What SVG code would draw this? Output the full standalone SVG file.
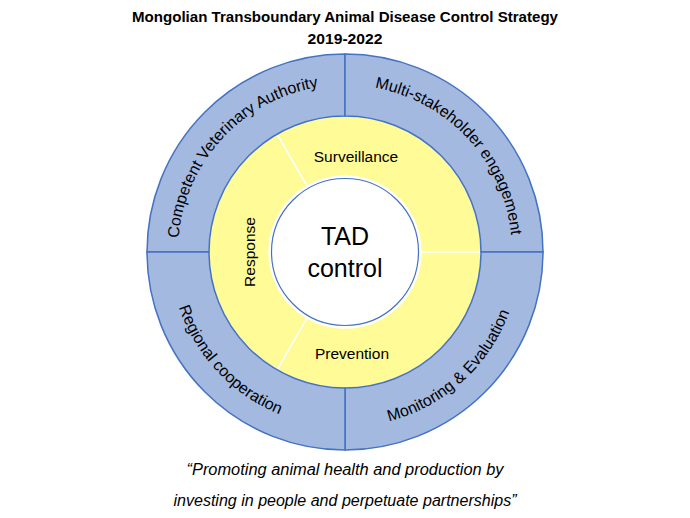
<svg xmlns="http://www.w3.org/2000/svg" width="690" height="518" viewBox="0 0 690 518">
<style>
.blue{fill:#A3B9E0;stroke:#4472C4;stroke-width:1.5}
.yel{fill:#FFFB97;stroke:#FFFFFF;stroke-width:1.5}
.t{font-family:"Liberation Sans",Arial,sans-serif;fill:#000}
.ring{font-size:16px}
.inner{font-size:15.5px}
</style>
<defs>
<path id="arcTL" d="M178,252 A167,167 0 0 1 345,85"/>
<path id="arcTR" d="M345,85 A167,167 0 0 1 512,252"/>
<path id="arcBL" d="M170,252 A175,175 0 0 0 345,427"/>
<path id="arcBR" d="M345,427 A175,175 0 0 0 520,252"/>
</defs>
<rect width="690" height="518" fill="#FFFFFF"/>
<g id="title">
<text class="t" x="345" y="22" text-anchor="middle" font-weight="bold" font-size="14.5" textLength="426" lengthAdjust="spacingAndGlyphs">Mongolian Transboundary Animal Disease Control Strategy</text>
<text class="t" x="345" y="43.5" text-anchor="middle" font-weight="bold" font-size="14.5" textLength="75" lengthAdjust="spacingAndGlyphs">2019-2022</text>
</g>
<g id="surveillance">
<path class="yel" d="M277,134.2 A136,136 0 0 1 481,252 L421,252 A76,76 0 0 0 307,186.2 Z"/>
<text class="t inner" x="356" y="162" text-anchor="middle">Surveillance</text>
</g>
<g id="prevention">
<path class="yel" d="M481,252 A136,136 0 0 1 277,369.8 L307,317.8 A76,76 0 0 0 421,252 Z"/>
<text class="t inner" x="352" y="359" text-anchor="middle">Prevention</text>
</g>
<g id="response">
<path class="yel" d="M277,369.8 A136,136 0 0 1 277,134.2 L307,186.2 A76,76 0 0 0 307,317.8 Z"/>
<text class="t inner" transform="translate(255,252) rotate(-90)" text-anchor="middle">Response</text>
</g>
<g id="competent-veterinary-authority">
<path class="blue" d="M147,252 A198,198 0 0 1 345,54 L345,116 A136,136 0 0 0 209,252 Z"/>
<text class="t ring"><textPath href="#arcTL" startOffset="47.5%" text-anchor="middle">Competent Veterinary Authority</textPath></text>
</g>
<g id="multi-stakeholder-engagement">
<path class="blue" d="M345,54 A198,198 0 0 1 543,252 L481,252 A136,136 0 0 0 345,116 Z"/>
<text class="t ring"><textPath href="#arcTR" startOffset="52.5%" text-anchor="middle">Multi-stakeholder engagement</textPath></text>
</g>
<g id="monitoring-evaluation">
<path class="blue" d="M543,252 A198,198 0 0 1 345,450 L345,388 A136,136 0 0 0 481,252 Z"/>
<text class="t ring"><textPath href="#arcBR" startOffset="47%" text-anchor="middle">Monitoring &amp; Evaluation</textPath></text>
</g>
<g id="regional-cooperation">
<path class="blue" d="M345,450 A198,198 0 0 1 147,252 L209,252 A136,136 0 0 0 345,388 Z"/>
<text class="t ring"><textPath href="#arcBL" startOffset="48%" text-anchor="middle">Regional cooperation</textPath></text>
</g>
<g id="tad-control">
<circle cx="345" cy="252" r="75" fill="#FFFFFF"/>
<circle cx="345" cy="252" r="73.5" fill="#FFFFFF" stroke="#4472C4" stroke-width="1.2"/>
<text class="t" x="345" y="245" text-anchor="middle" font-size="25">TAD</text>
<text class="t" x="345" y="277" text-anchor="middle" font-size="25">control</text>
</g>
<g id="connectors"></g>
<g id="quote">
<text class="t" x="345" y="475" text-anchor="middle" font-style="italic" font-size="16" textLength="317" lengthAdjust="spacingAndGlyphs">“Promoting animal health and production by</text>
<text class="t" x="345" y="506" text-anchor="middle" font-style="italic" font-size="16" textLength="343" lengthAdjust="spacingAndGlyphs">investing in people and perpetuate partnerships”</text>
</g>
</svg>
